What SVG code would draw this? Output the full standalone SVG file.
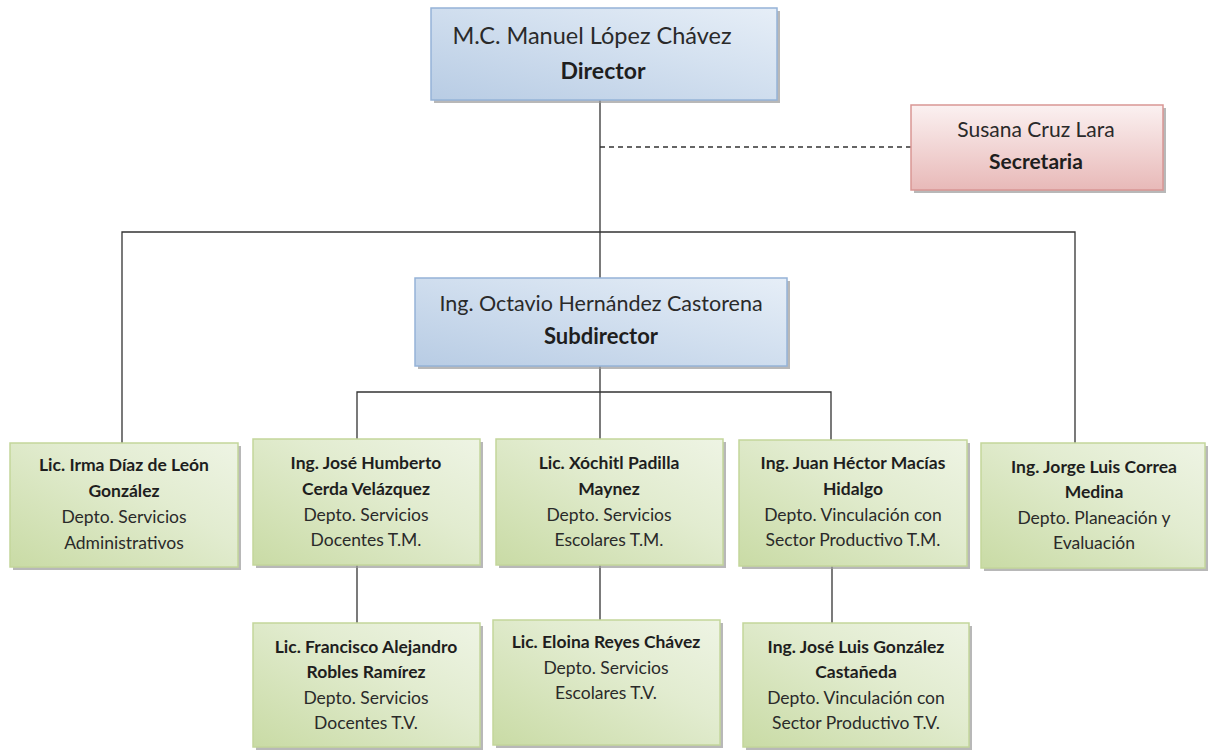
<svg xmlns="http://www.w3.org/2000/svg" width="1209" height="752" viewBox="0 0 1209 752">
<defs>
<linearGradient id="gBlue" x1="0" y1="1" x2="1" y2="0">
<stop offset="0" stop-color="#b8cce4"/>
<stop offset="0.6" stop-color="#d4e1f0"/>
<stop offset="1" stop-color="#e6eef7"/>
</linearGradient>
<linearGradient id="gGreen" x1="0" y1="1" x2="1" y2="0">
<stop offset="0" stop-color="#c9dba5"/>
<stop offset="0.6" stop-color="#e2ecd0"/>
<stop offset="1" stop-color="#eef4e4"/>
</linearGradient>
<linearGradient id="gPink" x1="0" y1="0" x2="0" y2="1">
<stop offset="0" stop-color="#fbf1f1"/>
<stop offset="1" stop-color="#e8b9b8"/>
</linearGradient>
</defs>
<style>
.shadow{fill:#9a9a9a;opacity:0.7}
.blue{fill:url(#gBlue);stroke:#95b3d7;stroke-width:1.5}
.green{fill:url(#gGreen);stroke:#c3d69b;stroke-width:1.5}
.pink{fill:url(#gPink);stroke:#d99694;stroke-width:1.5}
text{font-family:Lato,"Liberation Sans",sans-serif;fill:#2a2a2a;text-anchor:middle}
.b{font-weight:bold;fill:#1e1e1e}
.s{font-size:17.5px}
.sb{font-size:17.5px}
.conn{stroke:#333;stroke-width:1.3;fill:none}
.dash{stroke:#333;stroke-width:1.3;stroke-dasharray:5 4;fill:none}
</style>
<g id="connectors">
<line class="conn" x1="600" y1="100" x2="600" y2="278"/>
<line class="dash" x1="600" y1="147" x2="911" y2="147"/>
<polyline class="conn" points="122,443 122,232 1075,232 1075,443"/>
<line class="conn" x1="600" y1="366" x2="600" y2="623"/>
<polyline class="conn" points="357,439 357,392 831,392 831,440"/>
<line class="conn" x1="357" y1="565" x2="357" y2="623"/>
<line class="conn" x1="832" y1="566" x2="832" y2="623"/>
</g>
<g id="director">
<rect class="shadow" x="434" y="11" width="346" height="92"/>
<rect class="blue" x="431" y="8" width="346" height="92"/>
<text x="592" y="44" style="font-size:23.5px">M.C. Manuel López Chávez</text>
<text class="b" x="603" y="79" style="font-size:23px">Director</text>
</g>
<g id="secretaria">
<rect class="shadow" x="914" y="108" width="252" height="85"/>
<rect class="pink" x="911" y="105" width="252" height="85"/>
<text x="1036" y="137" style="font-size:21px">Susana Cruz Lara</text>
<text class="b" x="1036" y="169" style="font-size:21px">Secretaria</text>
</g>
<g id="subdirector">
<rect class="shadow" x="418" y="281" width="372" height="88"/>
<rect class="blue" x="415" y="278" width="372" height="88"/>
<text x="601" y="311" style="font-size:21.5px">Ing. Octavio Hernández Castorena</text>
<text class="b" x="601" y="344" style="font-size:22px">Subdirector</text>
</g>
<g id="irma">
<rect class="shadow" x="13" y="446" width="228" height="124"/>
<rect class="green" x="10" y="443" width="228" height="124"/>
<text class="b sb" x="124" y="471">Lic. Irma Díaz de León</text>
<text class="b sb" x="124" y="497">González</text>
<text class="s" x="124" y="523">Depto. Servicios</text>
<text class="s" x="124" y="549">Administrativos</text>
</g>
<g id="jose-humberto">
<rect class="shadow" x="256" y="442" width="227" height="126"/>
<rect class="green" x="253" y="439" width="227" height="126"/>
<text class="b sb" x="366" y="469">Ing. José Humberto</text>
<text class="b sb" x="366" y="495">Cerda Velázquez</text>
<text class="s" x="366" y="521">Depto. Servicios</text>
<text class="s" x="366" y="546">Docentes T.M.</text>
</g>
<g id="xochitl">
<rect class="shadow" x="499" y="442" width="227" height="126"/>
<rect class="green" x="496" y="439" width="227" height="126"/>
<text class="b sb" x="609" y="469">Lic. Xóchitl Padilla</text>
<text class="b sb" x="609" y="495">Maynez</text>
<text class="s" x="609" y="521">Depto. Servicios</text>
<text class="s" x="609" y="546">Escolares T.M.</text>
</g>
<g id="juan-hector">
<rect class="shadow" x="742" y="443" width="228" height="126"/>
<rect class="green" x="739" y="440" width="228" height="126"/>
<text class="b sb" x="853" y="469">Ing. Juan Héctor Macías</text>
<text class="b sb" x="853" y="495">Hidalgo</text>
<text class="s" x="853" y="521">Depto. Vinculación con</text>
<text class="s" x="853" y="546">Sector Productivo T.M.</text>
</g>
<g id="jorge-luis">
<rect class="shadow" x="984" y="446" width="224" height="125"/>
<rect class="green" x="981" y="443" width="224" height="125"/>
<text class="b sb" x="1094" y="473">Ing. Jorge Luis Correa</text>
<text class="b sb" x="1094" y="498">Medina</text>
<text class="s" x="1094" y="524">Depto. Planeación y</text>
<text class="s" x="1094" y="549">Evaluación</text>
</g>
<g id="francisco">
<rect class="shadow" x="256" y="626" width="227" height="124"/>
<rect class="green" x="253" y="623" width="227" height="124"/>
<text class="b sb" x="366" y="653">Lic. Francisco Alejandro</text>
<text class="b sb" x="366" y="678">Robles Ramírez</text>
<text class="s" x="366" y="704">Depto. Servicios</text>
<text class="s" x="366" y="729">Docentes T.V.</text>
</g>
<g id="eloina">
<rect class="shadow" x="496" y="623" width="227" height="125"/>
<rect class="green" x="493" y="620" width="227" height="125"/>
<text class="b sb" x="606" y="648">Lic. Eloina Reyes Chávez</text>
<text class="s" x="606" y="674">Depto. Servicios</text>
<text class="s" x="606" y="699">Escolares T.V.</text>
</g>
<g id="jose-luis">
<rect class="shadow" x="746" y="626" width="226" height="124"/>
<rect class="green" x="743" y="623" width="226" height="124"/>
<text class="b sb" x="856" y="653">Ing. José Luis González</text>
<text class="b sb" x="856" y="678">Castañeda</text>
<text class="s" x="856" y="704">Depto. Vinculación con</text>
<text class="s" x="856" y="729">Sector Productivo T.V.</text>
</g>
</svg>
